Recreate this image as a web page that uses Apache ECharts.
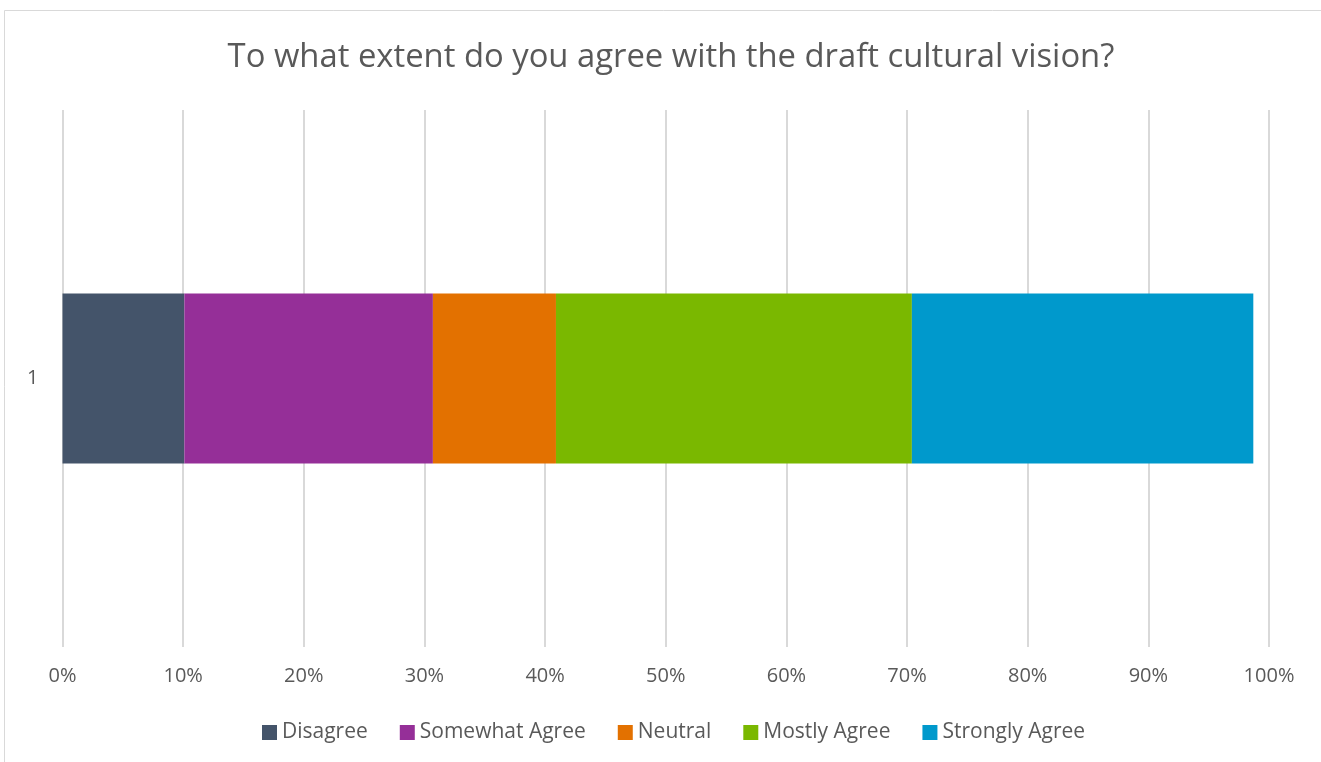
<!DOCTYPE html>
<html>
<head>
<meta charset="utf-8">
<script src="https://cdn.jsdelivr.net/npm/echarts@6/dist/echarts.min.js"></script>
<style>
  html, body { margin: 0; padding: 0; background: #fff; }
  #chart { width: 1321px; height: 762px; }
</style>
</head>
<body>
<div id="chart"></div>
<script>
// Survey responses (share of respondents, %)
const categories = ['1'];
const seriesNames = ['Disagree', 'Somewhat Agree', 'Neutral', 'Mostly Agree', 'Strongly Agree'];
const disagree = [10.1];
const somewhatAgree = [20.6];
const neutral = [10.2];
const mostlyAgree = [29.5];
const stronglyAgree = [28.3];
const xTicks = [0, 10, 20, 30, 40, 50, 60, 70, 80, 90, 100];

const colors = ['#44546A', '#952F98', '#E37100', '#7AB800', '#0099CC'];
const values = [disagree, somewhatAgree, neutral, mostlyAgree, stronglyAgree];
const FONT = 'Open Sans';
const TEXT = '#595959';

const chart = echarts.init(document.getElementById('chart'), null, { renderer: 'canvas' });

chart.setOption({
  animation: false,
  backgroundColor: '#ffffff',
  graphic: [{
    type: 'rect',
    shape: { x: 4.5, y: 10.5, width: 1400, height: 800 },
    style: { fill: 'none', stroke: '#d9d9d9', lineWidth: 1 },
    z: -1
  }],
  title: {
    text: 'To what extent do you agree with the draft cultural vision?',
    left: 666, top: 36,
    textAlign: 'center',
    textStyle: { fontFamily: FONT, fontSize: 32.8, fontWeight: 'normal', color: TEXT }
  },
  legend: {
    data: seriesNames,
    top: 722,
    left: 262,
    padding: 0,
    icon: 'rect',
    itemWidth: 15, itemHeight: 15,
    itemGap: 32,
    textStyle: { fontFamily: FONT, fontSize: 21, color: TEXT }
  },
  grid: { left: 62.5, right: 52, top: 110, bottom: 115, containLabel: false },
  xAxis: {
    type: 'value',
    min: 0, max: 100, interval: 10,
    axisLine: { show: false },
    axisTick: { show: false },
    splitLine: { show: true, lineStyle: { color: '#d9d9d9', width: 2 } },
    axisLabel: {
      fontFamily: FONT, fontSize: 20, color: TEXT, margin: 19,
      formatter: v => xTicks.includes(v) ? v + '%' : ''
    }
  },
  yAxis: {
    type: 'category',
    data: categories,
    axisLine: { show: false },
    axisTick: { show: false },
    axisLabel: { fontFamily: FONT, fontSize: 20, color: TEXT, margin: 24 }
  },
  series: seriesNames.map((name, i) => ({
    name,
    type: 'bar',
    stack: 'total',
    barWidth: 170,
    itemStyle: { color: colors[i] },
    data: values[i]
  }))
});
</script>
</body>
</html>
